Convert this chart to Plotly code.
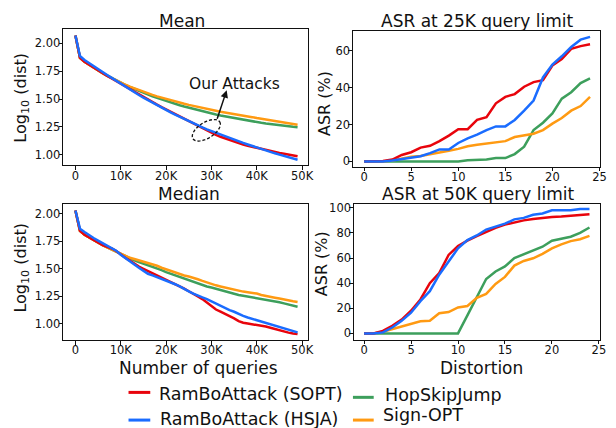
import numpy as np
import plotly.graph_objects as go

# ---------------- data ----------------
queries = list(range(0, 50000, 1000))
query_tickvals = [0, 10000, 20000, 30000, 40000, 50000]
query_ticktext = ["0", "10K", "20K", "30K", "40K", "50K"]
log_tickvals = [1.00, 1.25, 1.50, 1.75, 2.00]
log_ticktext = ["1.00", "1.25", "1.50", "1.75", "2.00"]

mean_sopt = [2.07, 1.87, 1.835, 1.808, 1.782, 1.757, 1.732, 1.708, 1.684, 1.66,
             1.636, 1.612, 1.588, 1.564, 1.54, 1.517, 1.494, 1.472, 1.45, 1.428,
             1.407, 1.386, 1.365, 1.344, 1.323, 1.302, 1.281, 1.259, 1.237, 1.216,
             1.197, 1.179, 1.162, 1.147, 1.132, 1.118, 1.105, 1.093, 1.082, 1.072,
             1.062, 1.052, 1.043, 1.034, 1.026, 1.018, 1.01, 1.002, 0.995, 0.988]
mean_hsja = [2.07, 1.885, 1.85, 1.822, 1.795, 1.768, 1.742, 1.716, 1.69, 1.663,
             1.636, 1.61, 1.585, 1.56, 1.536, 1.512, 1.489, 1.467, 1.445, 1.423,
             1.402, 1.381, 1.36, 1.34, 1.32, 1.3, 1.281, 1.263, 1.246, 1.229,
             1.213, 1.197, 1.181, 1.166, 1.151, 1.136, 1.121, 1.107, 1.093, 1.079,
             1.066, 1.053, 1.04, 1.027, 1.014, 1.002, 0.99, 0.978, 0.967, 0.956]
mean_hsj = [2.07, 1.87, 1.835, 1.808, 1.782, 1.757, 1.732, 1.709, 1.687, 1.666,
            1.646, 1.627, 1.608, 1.59, 1.573, 1.556, 1.54, 1.525, 1.51, 1.496,
            1.482, 1.469, 1.457, 1.445, 1.433, 1.422, 1.411, 1.4, 1.39, 1.38,
            1.371, 1.362, 1.353, 1.345, 1.337, 1.329, 1.321, 1.313, 1.306, 1.299,
            1.293, 1.287, 1.281, 1.275, 1.27, 1.265, 1.26, 1.255, 1.251, 1.247]
mean_signopt = [2.07, 1.87, 1.835, 1.808, 1.782, 1.757, 1.732, 1.709, 1.687, 1.666,
                1.646, 1.628, 1.611, 1.595, 1.579, 1.564, 1.55, 1.537, 1.524, 1.512,
                1.5, 1.489, 1.478, 1.468, 1.458, 1.448, 1.438, 1.429, 1.42, 1.411,
                1.403, 1.395, 1.387, 1.379, 1.372, 1.365, 1.358, 1.351, 1.344, 1.338,
                1.33, 1.324, 1.317, 1.311, 1.304, 1.298, 1.291, 1.285, 1.278, 1.27]

median_sopt = [2.03, 1.845, 1.81, 1.785, 1.76, 1.735, 1.715, 1.7, 1.685, 1.662,
               1.628, 1.6, 1.575, 1.545, 1.52, 1.5, 1.48, 1.46, 1.44, 1.42,
               1.4, 1.385, 1.365, 1.345, 1.32, 1.296, 1.275, 1.25, 1.225, 1.195,
               1.16, 1.13, 1.11, 1.09, 1.075, 1.05, 1.025, 1.01, 1.003, 0.997,
               0.99, 0.982, 0.975, 0.965, 0.952, 0.94, 0.93, 0.92, 0.913, 0.907]
median_hsja = [2.03, 1.865, 1.835, 1.805, 1.78, 1.757, 1.735, 1.715, 1.69, 1.665,
               1.628, 1.6, 1.575, 1.54, 1.51, 1.48, 1.455, 1.44, 1.425, 1.41,
               1.395, 1.38, 1.36, 1.34, 1.315, 1.295, 1.275, 1.255, 1.24, 1.225,
               1.205, 1.18, 1.16, 1.14, 1.125, 1.11, 1.09, 1.072, 1.058, 1.045,
               1.033, 1.02, 1.008, 0.995, 0.983, 0.97, 0.958, 0.945, 0.932, 0.922]
median_hsj = [2.03, 1.845, 1.81, 1.785, 1.76, 1.735, 1.715, 1.695, 1.675, 1.655,
              1.635, 1.613, 1.595, 1.578, 1.562, 1.548, 1.535, 1.52, 1.505, 1.488,
              1.47, 1.455, 1.44, 1.425, 1.41, 1.395, 1.38, 1.365, 1.35, 1.34,
              1.33, 1.318, 1.305, 1.293, 1.282, 1.272, 1.262, 1.255, 1.248, 1.242,
              1.236, 1.228, 1.22, 1.212, 1.204, 1.196, 1.186, 1.176, 1.166, 1.156]
median_signopt = [2.03, 1.845, 1.81, 1.785, 1.76, 1.735, 1.715, 1.695, 1.675, 1.655,
                  1.635, 1.615, 1.6, 1.59, 1.578, 1.567, 1.555, 1.54, 1.528, 1.51,
                  1.495, 1.48, 1.47, 1.45, 1.44, 1.43, 1.42, 1.405, 1.39, 1.375,
                  1.36, 1.35, 1.34, 1.33, 1.32, 1.31, 1.3, 1.293, 1.287, 1.282,
                  1.275, 1.262, 1.252, 1.245, 1.238, 1.23, 1.22, 1.212, 1.205, 1.198]

distortion = list(range(0, 25))
dist_tickvals = [0, 5, 10, 15, 20, 25]

asr25_sopt = [0, 0, 0.3, 1, 3.5, 5, 7.5, 8.5, 11, 14, 17.5, 17.5, 22.5, 24, 31.5,
              35, 36.5, 40.5, 43, 44, 52, 55.5, 61, 62.5, 63.5]
asr25_hsja = [0, 0, 0, 0.5, 1.2, 2, 2.8, 4.5, 6.5, 6.5, 10, 12.5, 14.5, 17, 19,
              19, 22.5, 27.5, 33, 45.5, 52.5, 57, 62, 66, 67.5]
asr25_hsj = [0, 0, 0, 0, 0, 0, 0, 0, 0, 0, 0, 0.7, 0.8, 1, 1.8,
             1.8, 4, 8, 17, 21, 26, 34, 37.5, 42.5, 45]
asr25_signopt = [0, 0, 0, 0.5, 1.5, 2.5, 3, 3.8, 5, 5.8, 6.8, 8.2, 9, 9.8, 10.6,
                 11, 13.2, 14, 15, 17, 20.5, 23.5, 27.5, 30, 35]

asr50_sopt = [0, 0, 2, 6, 11, 18, 27, 40, 48, 62.5, 69.5, 73.8, 77.4, 80.8, 84,
              86.6, 88.5, 90, 91, 92, 92.6, 93, 93.7, 94.5, 94.8]
asr50_hsja = [0, 0, 0.8, 4.7, 10, 16.5, 25.7, 33.6, 46.7, 57, 67.7, 74.3, 78, 82.7, 85.3,
              87.4, 90.8, 92, 94.5, 95.5, 98, 98, 98, 99, 99]
asr50_hsj = [0, 0, 0, 0, 0, 0, 0, 0, 0, 0, 0, 14.4, 28.8, 43.3, 49.3,
             53.3, 60, 63, 66.4, 69, 73.8, 75.6, 77, 80, 84.3]
asr50_signopt = [0, 0, 1.3, 3.4, 6, 7.9, 9.7, 10, 16, 17, 20.7, 21.8, 28.3, 31.5, 39.4,
                 45, 54, 57.7, 59.8, 63.3, 67.7, 70.9, 73.5, 75, 77.7]

series_names = ["RamBoAttack (SOPT)", "RamBoAttack (HSJA)", "HopSkipJump", "Sign-OPT"]
colors = ["#e8040c", "#1a6cff", "#3d9f5c", "#ff9a12"]

# ---------------- figure ----------------
W, H = 616, 428
def px(x):
    return x / W
def py(y):
    return 1 - y / H

FONT = "DejaVu Sans"
fig = go.Figure()

panels = [
    ("x", "y", queries, [mean_hsj, mean_signopt, mean_sopt, mean_hsja]),
    ("x2", "y2", distortion, [asr25_hsj, asr25_signopt, asr25_sopt, asr25_hsja]),
    ("x3", "y3", queries, [median_hsj, median_signopt, median_sopt, median_hsja]),
    ("x4", "y4", distortion, [asr50_hsj, asr50_signopt, asr50_sopt, asr50_hsja]),
]
draw_order = [2, 3, 0, 1]
for xa, ya, xs, ys in panels:
    for k, yvals in zip(draw_order, ys):
        fig.add_trace(go.Scatter(x=xs, y=yvals, mode="lines", name=series_names[k],
                                 line=dict(color=colors[k], width=2.5),
                                 xaxis=xa, yaxis=ya, showlegend=False))

axis_common = dict(showline=True, mirror=True, linecolor="#111", linewidth=1.2,
                   ticks="outside", ticklen=3.5, tickwidth=1, tickcolor="#111",
                   showgrid=False, zeroline=False, ticklabelstandoff=-4,
                   tickfont=dict(family=FONT, size=11.5, color="#111"))

fig.update_layout(
    width=W, height=H, margin=dict(l=0, r=0, t=0, b=0),
    paper_bgcolor="white", plot_bgcolor="white",
    xaxis=dict(domain=[px(64), px(312)], range=[-2680, 51400], anchor="y",
               tickvals=query_tickvals, ticktext=query_ticktext, **axis_common),
    yaxis=dict(domain=[py(164.3), py(26.7)], range=[0.906, 2.124], anchor="x",
               tickvals=log_tickvals, ticktext=log_ticktext, **axis_common),
    xaxis2=dict(domain=[px(357), px(607)], range=[-1.19, 25.07], anchor="y2",
                tickvals=dist_tickvals, **axis_common),
    yaxis2=dict(domain=[py(165.7), py(28.3)], range=[-2.89, 70.71], anchor="x2",
                tickvals=[0, 20, 40, 60], **axis_common),
    xaxis3=dict(domain=[px(64), px(312)], range=[-2680, 51400], anchor="y3",
                tickvals=query_tickvals, ticktext=query_ticktext, **axis_common),
    yaxis3=dict(domain=[py(341), py(203.3)], range=[0.853, 2.090], anchor="x3",
                tickvals=log_tickvals, ticktext=log_ticktext, **axis_common),
    xaxis4=dict(domain=[px(358), px(607)], range=[-1.08, 25.13], anchor="y4",
                tickvals=dist_tickvals, **axis_common),
    yaxis4=dict(domain=[py(340.7), py(203.3)], range=[-5.04, 103.1], anchor="x4",
                tickvals=[0, 20, 40, 60, 80, 100], **axis_common),
)

annotations = []
def text_ann(txt, x, y, size, xanchor="center", angle=0):
    annotations.append(dict(text=txt, x=px(x), y=py(y), xref="paper", yref="paper",
                            xanchor=xanchor, yanchor="middle", showarrow=False,
                            textangle=angle,
                            font=dict(family=FONT, size=size, color="#111")))

# subplot titles
text_ann("Mean", 184, 18, 17)
text_ann("ASR at 25K query limit", 483, 18, 17)
text_ann("Median", 191, 193, 17)
text_ann("ASR at 50K query limit", 484, 193, 17)
# axis titles
text_ann("Number of queries", 201, 369, 17)
text_ann("Distortion", 487, 369, 17)
text_ann("Log<sub>10</sub> (dist)", 22, 96, 16, angle=-90)
text_ann("Log<sub>10</sub> (dist)", 22, 268, 16, angle=-90)
text_ann("ASR (%)", 329, 102, 16, angle=-90)
text_ann("ASR (%)", 326, 264, 16, angle=-90)
# "Our Attacks" callout
text_ann("Our Attacks", 236.7, 82, 15.5)
annotations.append(dict(text="", x=px(229.3), y=py(88.3), xref="paper", yref="paper",
                        ax=-10, ay=30, showarrow=True, arrowhead=2, arrowsize=1,
                        arrowwidth=1.5, arrowcolor="#111"))

# legend (manual)
legend_items = [
    (0, 130, 152, 394, 159.3, 396),
    (1, 130, 152, 422, 160, 420.5),
    (2, 357, 378, 399, 387.3, 397),
    (3, 357, 378, 422, 385, 417),
]
shapes = []
for k, x0, x1, yl, xt, yt in legend_items:
    shapes.append(dict(type="line", xref="paper", yref="paper",
                       x0=px(x0), x1=px(x1), y0=py(yl), y1=py(yl),
                       line=dict(color=colors[k], width=3)))
    text_ann(series_names[k], xt, yt, 17.5, xanchor="left")

# dashed ellipse around our attacks
t = np.linspace(0, 2 * np.pi, 60)
cx, cy, a, b, ang = 208.7, 128.8, 16.0, 8.0, np.deg2rad(-32)
ex = cx + a * np.cos(t) * np.cos(ang) - b * np.sin(t) * np.sin(ang)
ey = cy + a * np.cos(t) * np.sin(ang) + b * np.sin(t) * np.cos(ang)
path = "M " + " L ".join(f"{px(x):.5f},{py(y):.5f}" for x, y in zip(ex, ey)) + " Z"
shapes.append(dict(type="path", xref="paper", yref="paper", path=path,
                   line=dict(color="#111", width=1.3, dash="3px,2px")))

fig.update_layout(annotations=annotations, shapes=shapes)
fig.write_html("out.html")
